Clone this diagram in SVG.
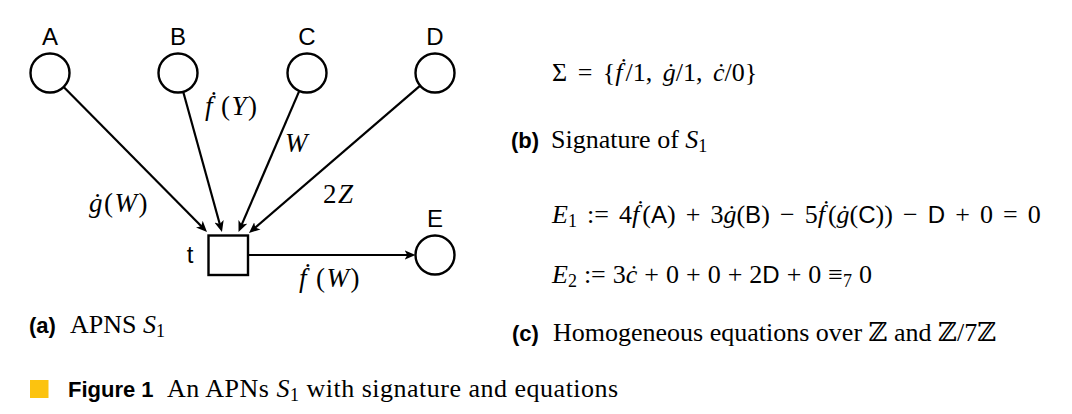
<svg xmlns="http://www.w3.org/2000/svg" width="1072" height="414" viewBox="0 0 1072 414">
<style>
.node{fill:#fff;stroke:#000;stroke-width:2.4}
.edge{fill:none;stroke:#000;stroke-width:2.2}
.lbl{font-family:"Liberation Sans","DejaVu Sans",sans-serif;font-size:24px;fill:#000}
.m{font-family:"Liberation Serif","DejaVu Serif",serif;font-size:26px;fill:#000}
.el{font-size:27px;letter-spacing:1.5px}
.i{font-style:italic}
.s{font-family:"Liberation Sans","DejaVu Sans",sans-serif;font-size:24px}
.b{font-family:"Liberation Sans","DejaVu Sans",sans-serif;font-weight:bold;font-size:22px;fill:#000}
.sub{font-size:18px}
</style>
<defs>
<marker id="arr" viewBox="0 -5 11 10" refX="4" refY="0" markerWidth="11" markerHeight="10" markerUnits="userSpaceOnUse" orient="auto">
<path d="M0,-4.8 L11,0 L0,4.8 L2.8,0 z" fill="#000"/>
</marker>
</defs>
<rect width="1072" height="414" fill="#fff"/>

<g id="connectors">
<path class="edge" marker-end="url(#arr)" d="M63.7,86.9 L202.1,227"/>
<path class="edge" marker-end="url(#arr)" d="M183.2,91.8 L220.1,225.2"/>
<path class="edge" marker-end="url(#arr)" d="M299.3,90.9 L241.3,225.6"/>
<path class="edge" marker-end="url(#arr)" d="M420.2,85.7 L254.3,228.4"/>
<path class="edge" marker-end="url(#arr)" d="M248,255 L408.5,255"/>
<text class="m el i" x="89" y="212">ġ<tspan font-style="normal">(</tspan>W<tspan font-style="normal">)</tspan></text>
<text class="m el i" x="205" y="115">ḟ<tspan font-style="normal" dx="7">(</tspan>Y<tspan font-style="normal">)</tspan></text>
<text class="m el i" x="285" y="152">W</text>
<text class="m el" x="323" y="203">2<tspan class="i">Z</tspan></text>
<text class="m el i" x="299" y="287">ḟ<tspan font-style="normal" dx="8">(</tspan>W<tspan font-style="normal">)</tspan></text>
</g>

<g id="node-A"><circle class="node" cx="50" cy="73" r="19.5"/><text class="lbl" x="50" y="45" text-anchor="middle">A</text></g>
<g id="node-B"><circle class="node" cx="178" cy="73" r="19.5"/><text class="lbl" x="178" y="45" text-anchor="middle">B</text></g>
<g id="node-C"><circle class="node" cx="307" cy="73" r="19.5"/><text class="lbl" x="307" y="45" text-anchor="middle">C</text></g>
<g id="node-D"><circle class="node" cx="435" cy="73" r="19.5"/><text class="lbl" x="435" y="45" text-anchor="middle">D</text></g>
<g id="node-E"><circle class="node" cx="435" cy="255" r="19.5"/><text class="lbl" x="435" y="227" text-anchor="middle">E</text></g>
<g id="node-t"><rect class="node" x="208.5" y="235.5" width="39.5" height="39.5"/><text class="lbl" x="190" y="263" text-anchor="middle">t</text></g>

<g id="caption-a">
<text class="b" x="29" y="333">(a)</text>
<text class="m" x="70" y="333">APNS <tspan class="i">S</tspan><tspan class="sub" dy="4">1</tspan></text>
</g>

<g id="signature">
<text class="m" x="552" y="81" style="word-spacing:4px">Σ = {<tspan class="i">ḟ</tspan><tspan dx="3">/1,</tspan> <tspan class="i">ġ</tspan>/1, <tspan class="i">ċ</tspan>/0}</text>
<text class="b" x="511" y="148">(b)</text>
<text class="m" x="551" y="148">Signature of <tspan class="i">S</tspan><tspan class="sub" dy="4">1</tspan></text>
</g>

<g id="equations">
<text class="m" x="552" y="223" style="word-spacing:3.6px"><tspan class="i">E</tspan><tspan class="sub" dy="4">1</tspan><tspan dy="-4"> := 4</tspan><tspan class="i">ḟ</tspan><tspan dx="3">(</tspan><tspan class="s">A</tspan>) + 3<tspan class="i">ġ</tspan>(<tspan class="s">B</tspan>) − 5<tspan class="i">ḟ</tspan><tspan dx="3">(</tspan><tspan class="i">ġ</tspan>(<tspan class="s">C</tspan>)) − <tspan class="s">D</tspan> + 0 = 0</text>
<text class="m" x="552" y="283" style="word-spacing:0.5px"><tspan class="i">E</tspan><tspan class="sub" dy="4">2</tspan><tspan dy="-4"> := 3</tspan><tspan class="i">ċ</tspan> + 0 + 0 + 2<tspan class="s">D</tspan> + 0 ≡<tspan class="sub" dy="4">7</tspan><tspan dy="-4"> 0</tspan></text>
<text class="b" x="512" y="341">(c)</text>
<text class="m" x="553" y="341">Homogeneous equations over ℤ and ℤ/7ℤ</text>
</g>

<g id="figure-caption">
<rect x="30" y="380" width="18.5" height="18" fill="#FCC30F"/>
<text class="b" x="68" y="397">Figure 1</text>
<text class="m" x="167" y="397" style="letter-spacing:0.5px">An APNs <tspan class="i">S</tspan><tspan class="sub" dy="4">1</tspan><tspan dy="-4"> with signature and equations</tspan></text>
</g>
</svg>
